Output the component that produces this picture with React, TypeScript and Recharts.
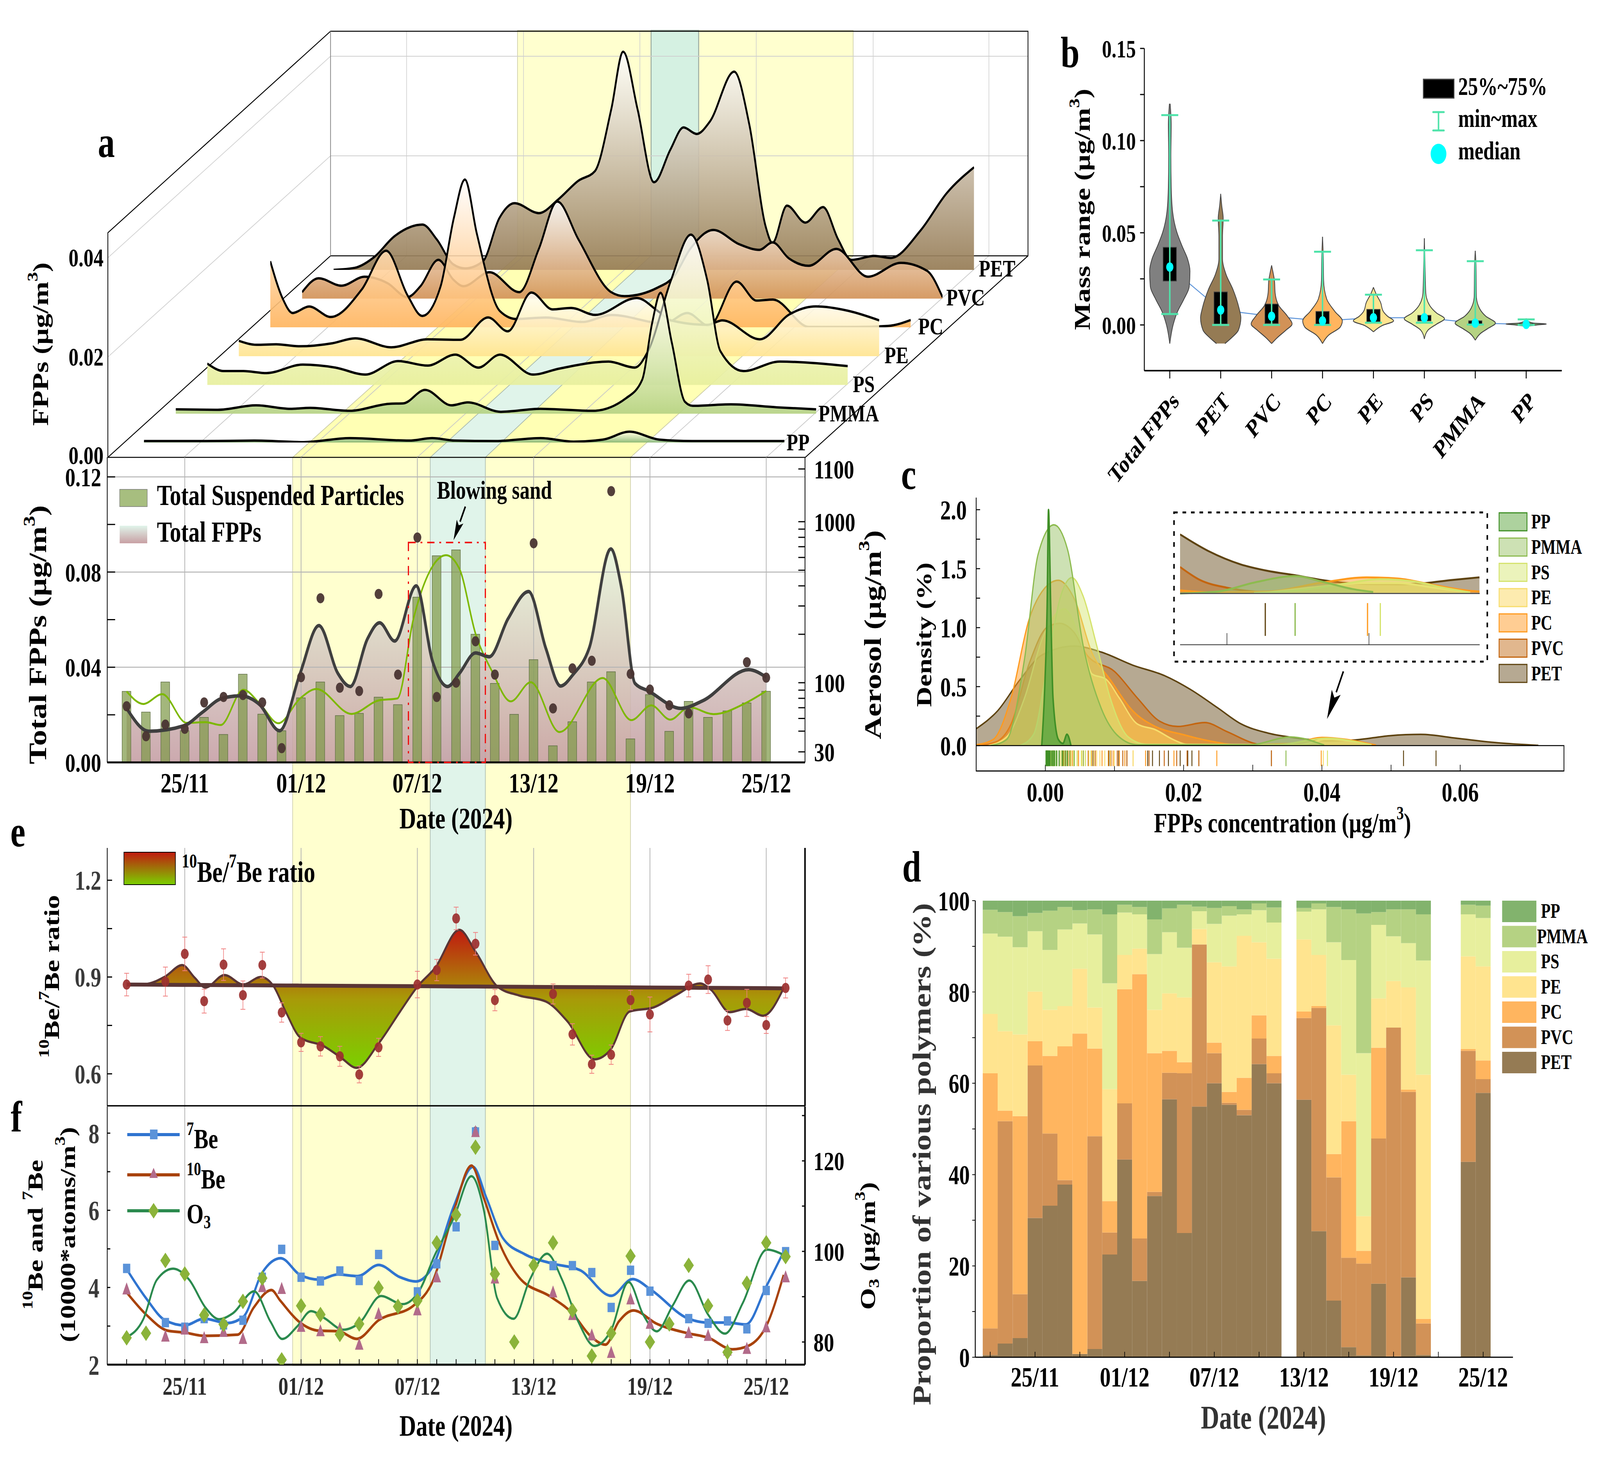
import React from 'react';
import { ComposedChart, Area, Line, Bar, Scatter, XAxis, YAxis, CartesianGrid, ErrorBar, ReferenceLine } from 'recharts';

const FONT = "'Liberation Serif','Times New Roman',serif";
const tk = (size: number, fill = '#000') => ({ fontFamily: FONT, fontWeight: 700, fontSize: size, fill });

// ---------- shared
const polymers = ['PP', 'PMMA', 'PS', 'PE', 'PC', 'PVC', 'PET'];
const dateIdx = [3, 9, 15, 21, 27, 33];
const dateLabels = ['25/11', '01/12', '07/12', '13/12', '19/12', '25/12'];
const colorsD: Record<string, string> = { PET: '#957B54', PVC: '#D29257', PC: '#FFB55F', PE: '#FFE48F', PS: '#E7EF9D', PMMA: '#B5D283', PP: '#82B36D' };
const dateFmt = (v: number) => { const k = dateIdx.indexOf(v); return k >= 0 ? dateLabels[k] : ''; };

// ---------- panel a ridges: [day index, concentration]
const ridgePET = [[0,0],[1.08,.0004],[2.1,.0026],[3.12,.0067],[4.58,.0091],[5.32,.0061],[6.17,.0011],[6.78,.0003],[7.69,.0017],[8.54,.0104],[9.32,.0134],[10.58,.0114],[11.59,.0142],[12.61,.0179],[13.46,.0198],[14.31,.0323],[14.92,.0438],[15.66,.0323],[16.51,.0176],[17.36,.0242],[18.03,.0286],[18.71,.0273],[19.39,.0298],[20.64,.0398],[21.42,.0292],[22.27,.0086],[22.61,.0054],[23.36,.0129],[24.31,.0095],[25.22,.0126],[26,.0061],[26.68,.002],[27.86,.0028],[28.71,.0024],[30.24,.0079],[31.59,.0154],[33,.0206]];
const ridgePVC = [[0,.0013],[.85,.0041],[2.03,.0026],[3.22,.0044],[4.41,.0031],[5.42,.0003],[6.1,.0025],[7.02,.0078],[7.8,.0038],[8.31,.0025],[9.66,.0053],[11.19,.0013],[12.2,.01],[13.15,.0195],[14.24,.0119],[15.93,.0013],[16.61,.0005],[18.31,.0022],[19.15,.0044],[20,.01],[21.19,.0138],[22.54,.0109],[23.56,.0098],[24.24,.0113],[25.08,.0081],[26.1,.0066],[27.53,.01],[29.15,.0044],[30.85,.0072],[32.2,.0056],[33,.0003]];
const ridgePC = [[0,.0133],[.64,.0058],[1.15,.0029],[2,.0042],[3.12,.0021],[4.71,.0076],[5.97,.0154],[7.08,.0064],[7.83,.0023],[8.78,.0083],[9.46,.022],[10.03,.0297],[10.64,.0189],[11.83,.0033],[12.68,.0017],[14.2,.002],[16.07,.0011],[17.59,.0025],[20.31,.0008],[21.49,.0029],[22.61,.0003],[24.03,.0092],[25.05,.0054],[25.9,.0056],[27.76,.0001],[30.14,.0001],[31.83,.0003],[33,.0015]];
const ridgePE = [[0,.0031],[.92,.0023],[1.93,.0024],[3.12,.002],[4.81,.0026],[6,.0036],[7.86,.0018],[9.73,.0034],[11.42,.0033],[12.85,.0078],[13.86,.005],[15.08,.0128],[16.17,.0094],[17.12,.0097],[18.37,.0083],[20.51,.0117],[21.59,.0091],[22.27,.0072],[24.14,.0063],[24.92,.0072],[26.85,.0034],[28.37,.0084],[29.73,.01],[31.42,.0091],[33,.0072]];
const ridgePS = [[0,.0043],[.85,.0028],[1.86,.0028],[3.05,.0024],[4.92,.0041],[6.61,.0035],[8.14,.0021],[9.83,.0048],[11.36,.0039],[12.78,.0061],[13.97,.0035],[15.08,.0061],[16.78,.0021],[18.14,.0033],[20.68,.0047],[22.03,.0035],[22.71,.0068],[23.9,.0211],[24.92,.0302],[25.76,.0211],[26.44,.0068],[27.63,.0028],[29.49,.0047],[33,.0038]];
const ridgePMMA = [[0,.0009],[2.17,.0008],[4.14,.0017],[5.9,.001],[6.92,.0012],[8.95,.0006],[10.98,.002],[11.73,.0021],[12.85,.0048],[14.2,.0017],[15.05,.0023],[16.75,.0004],[18.78,.001],[21.49,.0006],[23.19,.0031],[24.03,.0068],[24.54,.0181],[24.98,.0243],[25.56,.0143],[26.24,.0024],[26.64,.0016],[28.61,.0019],[30.98,.0013],[33,.0009]];
const ridgePP = [[0,.0003],[3.15,.0003],[5.69,.0004],[8.24,.0001],[10.61,.0009],[13.66,.0004],[14.85,.0009],[16.03,.0004],[18.07,.0003],[20.44,.0009],[22.14,.0002],[23.66,.0006],[25.02,.0022],[26.54,.0006],[28.24,.0003],[33,.0003]];
const ridgeSeries: [string, number[][]][] = [['PET', ridgePET], ['PVC', ridgePVC], ['PC', ridgePC], ['PE', ridgePE], ['PS', ridgePS], ['PMMA', ridgePMMA], ['PP', ridgePP]];

// ---------- panel TSP
const tspValues = [88.3,65.7,101,50.3,60.9,47.7,113,63.8,50.3,80.5,101,62.5,64.5,81.3,73.1,340,615,668,200,99,63.6,139,40.6,57.2,101,117,44.8,84.3,49.9,76.6,60.9,66.8,74.9,88.5];
const tspSmooth = [[0,88.3],[.86,73.8],[1.84,84.9],[3.09,56.3],[4.07,56.9],[4.85,54.6],[6.02,90.5],[6.86,74.4],[7.83,56],[8.95,79.9],[9.79,91.5],[11.6,64],[13,77.6],[13.97,79.9],[14.8,250],[15.78,528],[16.48,620],[17.17,510],[18,202],[18.85,118],[19.82,76.6],[20.85,100.7],[22.33,49.4],[24.56,107],[26.04,58.6],[27.07,72.3],[28.05,59],[29.02,70.5],[30.28,63.8],[31.95,74.9],[33,88.9]];
const fppCurve = [[0,.0227],[1.14,.0131],[2.96,.0154],[3.93,.0212],[4.91,.0269],[5.88,.028],[6.86,.0243],[7.89,.0133],[8.95,.0374],[9.92,.0575],[10.9,.0374],[11.54,.0319],[12.43,.052],[13.05,.0587],[13.83,.051],[14.94,.0742],[15.78,.0426],[16.56,.0319],[17.17,.0374],[18,.046],[18.71,.0444],[19.68,.0604],[20.74,.0718],[21.63,.0479],[22.39,.0321],[23.03,.0369],[23.86,.0479],[24.98,.0897],[25.54,.073],[26.23,.0332],[26.93,.03],[28.6,.0227],[29.72,.0259],[32.09,.039],[33,.0358]];
const fppDots = [[0,.0236],[1,.011],[2,.0159],[3,.0141],[4,.0252],[5,.0275],[6,.0283],[7,.0252],[8,.006],[9,.0358],[10,.069],[11,.0314],[12,.03],[13,.0708],[14,.0369],[15,.0945],[16,.0275],[17,.0335],[18,.0509],[19,.0369],[21,.0921],[22,.0227],[23,.0395],[24,.0427],[25,.114],[26,.0372],[27,.0306],[28,.024],[29,.0206],[32,.0421],[33,.0356]];

// ---------- panel e
const ratioIdx = [0,1,1.98,2.87,3.51,4.07,5.05,6.02,6.92,7.56,8.25,8.95,10.2,11.04,11.87,13,14.11,15,15.92,17.17,18.01,19.14,20.24,21.63,22.75,24.14,24.98,25.95,27.2,28.32,29.58,30.14,31.12,31.95,32.84,33.9];
const ratioCurve = [.8766,.8784,.9013,.937,.898,.8673,.9062,.8766,.9,.8735,.787,.713,.685,.651,.6185,.694,.793,.87,.929,1.046,.978,.87,.843,.824,.762,.645,.676,.793,.806,.843,.88,.861,.791,.801,.78,.865];
const ratioBase = [.8766,.8763,.8759,.8756,.8754,.8752,.8749,.8746,.8742,.874,.8738,.8735,.8731,.8728,.8726,.8722,.8718,.8715,.8712,.8708,.8705,.8701,.8697,.8692,.8689,.8684,.8681,.8678,.8673,.8669,.8665,.8663,.866,.8657,.8654,.865];
const ratioPts = [[0,.8766,.035],[2,.8858,.045],[3,.9716,.052],[4,.8253,.037],[5,.9383,.049],[6,.8438,.044],[7,.937,.04],[8,.7901,.03],[9,.6975,.028],[10,.6852,.03],[11,.6543,.031],[12,.598,.026],[13,.682,.028],[15,.8766,.041],[16,.9216,.033],[17,1.0815,.035],[18,1.003,.035],[19,.8284,.033],[22,.8475,.031],[23,.7222,.033],[24,.6296,.028],[25,.6593,.03],[26,.8284,.03],[27,.784,.054],[29,.8735,.035],[30,.892,.043],[31,.7654,.031],[32,.8198,.042],[33,.7512,.026],[34,.8661,.031]];

// ---------- panel f
const be7Curve = [[0,4.476],[1,3.723],[1.98,3.151],[3,3.018],[4,3.193],[5.18,3.078],[6.02,3.241],[7,4.386],[7.95,4.759],[8.95,4.325],[9.92,4.205],[10.9,4.337],[11.93,4.295],[13,4.584],[14.11,4.265],[14.94,4.157],[15.78,4.536],[16.9,6.133],[17.87,7.127],[18.57,6.313],[19.4,5.289],[20.52,4.867],[21.9,4.627],[23.4,4.446],[25,3.783],[26.1,4.217],[27.07,3.934],[28.9,3.211],[30,3.09],[30.98,3.09],[31.95,3.042],[33,4.024],[33.9,4.928]];
const be10Curve = [[0,3.873],[1,3.301],[2.12,2.88],[3,2.831],[4,2.747],[5.73,2.777],[6.56,3.482],[7.47,3.934],[7.92,3.663],[8.95,3.09],[9.92,2.88],[10.9,2.867],[11.88,2.669],[13,3.151],[14.8,3.53],[15.78,4.145],[16.9,6.012],[17.79,7.157],[18.43,6.313],[19.27,5.108],[20.24,4.265],[21.9,3.753],[23,3.331],[23.9,2.759],[24.7,2.518],[25.4,3.12],[26.15,3.404],[27.35,3.06],[28.9,2.819],[30,2.699],[31.25,2.398],[32.08,2.488],[33,3],[33.9,4.325]];
const o3Curve = [[0,81.03],[.86,85.03],[1.56,93.74],[2.4,96.2],[3.23,93.74],[4.07,87.59],[4.77,85.03],[5.47,86.31],[6.58,91.18],[7.42,84.51],[8.03,80.67],[8.81,83.49],[9.51,86.82],[10.2,85.28],[11.18,82.72],[12.02,84.26],[13.12,90.15],[14.24,88.36],[15.08,91.18],[15.92,99.38],[16.9,107.6],[17.79,116.6],[18.43,109.1],[19.12,89.64],[19.96,85.13],[20.8,93.74],[21.69,99.49],[22.47,93.74],[23.3,84.51],[24.14,79.13],[24.98,82.46],[25.9,93.23],[26.65,86.05],[27.35,82.36],[28.18,88.1],[29.03,93.59],[30,86.05],[30.87,81.85],[31.79,88.62],[33.03,100.4],[33.95,99.13]];
const beIdx = [0,2,3,4,5,6,7,8,9,10,11,12,13,15,16,17,18,19,22,23,24,25,26,27,29,30,31,32,33,34];
const be7Pts = [4.494,3.09,2.97,3.193,3.03,3.151,4.265,4.988,4.265,4.169,4.428,4.181,4.855,3.886,4.614,5.572,8.03,5.09,4.566,4.566,4.386,3.482,4.446,3.904,3.193,3.072,3.133,2.928,3.922,4.928];
const be10Pts = [3.952,2.729,2.91,2.687,2.849,2.669,4.012,3.964,2.982,2.867,2.928,2.518,3.313,3.41,4.265,5.952,8.03,4.235,3.873,3.289,2.759,2.307,3.693,3.06,2.819,2.747,2.367,2.41,2.97,4.265];
const o3Pts = [80.92,81.95,98,95.03,85.95,83.9,88.97,94.1,76.05,88,86.05,81.69,84,91.95,87.85,89.13,101.9,108.1,123,95.03,80,96.92,101.9,86.97,76.92,81.95,98.97,80,84,96.92,88,77.74,92.97,101.9,98.87];
const beErr = [.05,.05,.06,.05,.05,.05,.05,.06,.05,.06,.05,.05,.05,.06,.05,.05,.12,.06,.05,.06,.07,.05,.05,.05,.05,.05,.05,.05,.05,.05];

// ---------- panel b violins: [value, half width in category units]
const vioNames = ['Total FPPs', 'PET', 'PVC', 'PC', 'PE', 'PS', 'PMMA', 'PP'];
const vioColors = ['#808080', '#957B54', '#D29257', '#FFB55F', '#FFE48F', '#E7EF9D', '#B5D283', '#82B36D'];
const vioTotal = [[-.0101,0],[.0005,.07],[.0073,.153],[.014,.278],[.0208,.382],[.0292,.396],[.036,.347],[.0427,.243],[.0503,.139],[.0613,.056],[.0748,.028],[.0917,.021],[.1086,.028],[.12,.007]];
const vioPET = [[-.0101,.083],[-.0071,.208],[-.0029,.347],[.0039,.396],[.009,.361],[.0191,.243],[.0275,.104],[.036,.035],[.0478,.035],[.0579,.049],[.0647,.021],[.0711,0]];
const vioPVC = [[-.0101,0],[-.0071,.104],[-.0029,.278],[.0005,.403],[.0047,.3125],[.0106,.139],[.0174,.069],[.0241,.056],[.0275,.035],[.0323,0]];
const vioPC = [[-.0101,0],[-.0054,.125],[-.0012,.347],[.0022,.389],[.0073,.243],[.014,.083],[.0242,.021],[.0377,.014],[.0478,0]];
const vioPE = [[-.0037,0],[-.0003,.174],[.0022,.396],[.0047,.278],[.0073,.194],[.0123,.139],[.0166,.056],[.0204,0]];
const vioPS = [[-.0076,0],[-.0029,.069],[.0005,.243],[.0034,.396],[.0064,.243],[.0106,.104],[.0174,.028],[.0309,.014],[.047,0]];
const vioPMMA = [[-.0083,0],[-.0046,.104],[-.002,.243],[.001,.396],[.0047,.208],[.009,.083],[.0157,.021],[.0326,.014],[.0402,0]];
const vioPP = [[-.0007,0],[0,.208],[.0005,.396],[.001,.139],[.0022,.028],[.0035,0]];
const violins = [vioTotal, vioPET, vioPVC, vioPC, vioPE, vioPS, vioPMMA, vioPP];
const boxQ1 = [.0238,.0005,.0008,.0005,.0017,.0022,.0005,.0002];
const boxQ3 = [.0421,.0179,.0113,.0073,.0084,.0052,.0022,.0006];
const wMin = [.0059,0,0,0,.0012,.0012,.0002,0];
const wMax = [.1138,.0566,.0247,.0397,.0164,.0405,.0346,.003];
const medians = [.0314,.0081,.0047,.0022,.0039,.0039,.001,.0003];

// ---------- panel c density: [concentration, density]
const denPET = [[-.00997,.144],[-.0069,.295],[-.00365,.56],[-.0004,.771],[.00417,.844],[.00808,.793],[.01264,.682],[.0172,.594],[.0211,.472],[.025,.317],[.0283,.184],[.0322,.106],[.0367,.062],[.0407,.04],[.0446,.047],[.0498,.084],[.0543,.095],[.0595,.062],[.0654,.024],[.0713,.002]];
const denPVC = [[-.00997,0],[-.00723,.029],[-.00495,.184],[-.00235,.693],[.00026,1.003],[.00208,1.037],[.00417,.959],[.00612,.76],[.01003,.627],[.01329,.405],[.01655,.206],[.01915,.162],[.02306,.195],[.02632,.117],[.03023,.018],[.03218,0]];
const denPC = [[-.00997,.007],[-.00756,.051],[-.00495,.405],[-.00235,1.07],[-.00007,1.336],[.00189,1.402],[.00417,1.247],[.00678,.782],[.00938,.56],[.01264,.295],[.0159,.162],[.0198,.095],[.02371,.04],[.02762,.007],[.03544,.018],[.04,.069],[.04326,.055],[.04782,.004]];
const denPE = [[-.00821,0],[-.0056,.073],[-.003,.405],[-.0004,.914],[.00274,1.158],[.00547,.826],[.00678,.606],[.00873,.565],[.01068,.405],[.01329,.184],[.0159,.135],[.0185,.051],[.02046,.011],[.03675,.007],[.04065,.055],[.04717,.007]];
const denPS = [[-.00365,0],[-.0017,.095],[.00026,.671],[.00222,1.267],[.00384,1.424],[.00547,1.267],[.00743,.849],[.00938,.405],[.01199,.073],[.01459,.011],[.03349,.007],[.04065,.062],[.04717,.004]];
const denPMMA = [[-.00788,0],[-.0056,.051],[-.003,.738],[-.00104,1.623],[.00124,1.872],[.00319,1.668],[.00547,.849],[.00808,.317],[.01068,.073],[.01329,.007],[.02958,.007],[.03544,.073],[.04033,.004]];
const denPP = [[-.00052,0],[-.00007,.516],[.00026,1.18],[.00046,2],[.00078,1.18],[.00111,.405],[.00189,.051],[.00254,.018],[.00313,.095],[.00371,0]];
const denSeries: [string, number[][]][] = [['PET', denPET], ['PVC', denPVC], ['PC', denPC], ['PE', denPE], ['PS', denPS], ['PMMA', denPMMA], ['PP', denPP]];
const denStroke: Record<string, string> = { PET: '#5E4310', PVC: '#C4650F', PC: '#FF9A1E', PE: '#F7DD6C', PS: '#D5E36C', PMMA: '#8DBB4F', PP: '#3F8F26' };
const denFill: Record<string, string> = { PET: '#6E5426', PVC: '#C4701E', PC: '#FF9C28', PE: '#FBD860', PS: '#D8E878', PMMA: '#9CC46A', PP: '#5BA53E' };
const rugPP = [.0001,.0002,.0003,.0004,.0005,.0006,.0007,.0009,.0011,.0013,.0016,.002,.0025,.0032];
const rugPMMA = [.0001,.0003,.0005,.0007,.001,.0012,.0014,.0017,.002,.0024,.0027,.003,.0035,.0042,.0055,.0348];
const rugPS = [.0004,.0008,.0012,.0016,.002,.0024,.0028,.0032,.0037,.0041,.0046,.0052,.0058,.0066,.0408];
const rugPE = [.001,.0016,.0022,.003,.0037,.0041,.0046,.0053,.0058,.0063,.007,.0074,.0079,.0086,.0094,.01,.0127,.0402];
const rugPC = [.0005,.0011,.002,.0026,.0033,.0039,.0048,.0055,.0067,.0074,.0082,.0091,.0098,.0107,.0115,.0127,.0145,.0186,.0248,.0399];
const rugPVC = [.0003,.0012,.0024,.0036,.0048,.0062,.0072,.0095,.0104,.0112,.0118,.015,.0172,.019,.0205,.0222,.0327];
const rugPET = [.0002,.0029,.0041,.0069,.0092,.0106,.0118,.0148,.0155,.0165,.0178,.0195,.0206,.0212,.0222,.0327,.0518,.0565];
const rugs: [string, number[]][] = [['PET', rugPET], ['PVC', rugPVC], ['PC', rugPC], ['PE', rugPE], ['PS', rugPS], ['PMMA', rugPMMA], ['PP', rugPP]];
// inset
const insPET = [[.0267,.245],[.02873,.175],[.03095,.121],[.03285,.094],[.03476,.076],[.03666,.056],[.03856,.043],[.04014,.039],[.04205,.038],[.04395,.043],[.04585,.056],[.04778,.067]];
const insPVC = [[.0267,.11],[.0281,.056],[.03,.024],[.0319,.008],[.03349,.004]];
const insPC = [[.0267,.013],[.02873,.005],[.03285,.008],[.03666,.045],[.03983,.067],[.04205,.062],[.04458,.035],[.04712,.011],[.04778,.008]];
const insPE = [[.03285,.004],[.03666,.029],[.03951,.043],[.04205,.043],[.04458,.024],[.04712,.004]];
const insPS = [[.0319,.002],[.03507,.013],[.03824,.04],[.04078,.059],[.043,.051],[.04522,.024],[.04712,.004]];
const insPMMA = [[.0267,0],[.02937,.008],[.0319,.045],[.03476,.072],[.03697,.045],[.03888,.018],[.0403,.006]];
const insSeries: [string, number[][]][] = [['PET', insPET], ['PVC', insPVC], ['PC', insPC], ['PE', insPE], ['PS', insPS], ['PMMA', insPMMA]];
const insRug: [string, number][] = [['PET', .0327], ['PMMA', .0348], ['PC', .0399], ['PS', .0408]];

// ---------- panel d stacked shares (index 20, 30, 31 missing)
const shPET = [.5,3,4.2,30.5,33.2,37.8,.7,1.8,22.5,43.3,16.7,35.3,56.5,27.2,54.9,60,55.3,53,64.2,60,null,56.4,27.6,12.4,2.2,.4,16.1,.2,17.5,.5,null,null,42.8,57.9];
const shPVC = [5.8,48.7,9.6,33.4,15.8,1,0,46.6,4.8,12.3,9.3,.9,5.8,35,35.5,6.6,.4,1.2,5.6,2.2,null,17.9,48.9,27,19.6,20.1,31.8,72,40.6,6.9,null,null,24.3,3];
const shPC = [55.9,2.3,39,5.3,17,29.3,70.2,19.2,6.9,25,57.9,30.4,4.8,2.4,0,2.3,2.4,7,5.1,3.8,null,1.4,.4,5.1,29.9,2.8,19.9,0,.5,1,null,null,.4,4.1];
const shPE = [13,17.4,17.9,10.9,10.1,8.8,14.2,9,24.5,7.5,5.6,9.5,12.6,14.2,3.4,17.6,27.5,31.1,16,21.3,null,15.8,11.2,28.2,10.2,7.6,10.8,10.2,22.4,53.5,null,null,20.3,20.6];
const shPS = [17.6,20.7,19.1,13.2,13.1,16.8,9.9,16,23.2,9.3,7.5,12.2,13.4,10.9,3.9,8.4,11.1,4.7,7,7.9,null,6.1,10,18.2,25.1,35.7,16.1,9.8,9.7,25,null,null,9.2,10.6];
const shPMMA = [5.2,5.4,6.8,4,8.6,4.9,2.9,5.5,15.1,1.7,1.6,7.6,5.2,9.4,1,3.5,2.1,1.1,1.5,3.3,null,.8,1.3,7.7,11.1,30.6,2.8,5.9,7.4,10.1,null,null,2.1,2.7];
const shPP = [2,2.5,3.4,2.7,2.2,1.4,2.1,1.9,3,.9,1.4,4.1,1.7,.9,1.3,1.6,1.2,1.9,.6,1.5,null,1.6,.6,1.4,1.9,2.8,2.5,1.9,1.9,3,null,null,.9,1.1];

const rows = (a: number[][]) => a.map(([i, v]) => ({ i, v }));
const Box = ({ x, y, w, h, z, children }: any) => <div style={{ position: 'absolute', left: x, top: y, width: w, height: h, zIndex: z ?? 1 }}>{children}</div>;
const m0 = { top: 0, right: 0, bottom: 0, left: 0 };

const T = ({ x, y, s = 66, rot, anchor = 'middle', fill = '#000', children }: any) => (
  <text x={x} y={y} fontFamily={FONT} fontWeight={700} fontSize={s} fill={fill} textAnchor={anchor} dominantBaseline="central" transform={rot ? `rotate(${rot} ${x} ${y})` : undefined}>{children}</text>
);
const Sup = ({ s, children, after }: any) => (<><tspan dy={-s * 0.36} fontSize={s * 0.66}>{children}</tspan><tspan dy={s * 0.36}>{after}</tspan></>);
const Sub = ({ s, children, after }: any) => (<><tspan dy={s * 0.28} fontSize={s * 0.66}>{children}</tspan>{after ? <tspan dy={-s * 0.28}>{after}</tspan> : null}</>);
const Arrow = ({ x1, y1, x2, y2, head = 70, wid = 16 }: any) => {
  const dx = x2 - x1, dy = y2 - y1, L = Math.hypot(dx, dy), ux = dx / L, uy = dy / L;
  const bx = x2 - ux * head, by = y2 - uy * head;
  return <g><line x1={x1} y1={y1} x2={bx} y2={by} stroke="#000" strokeWidth={5} /><polygon points={`${x2},${y2} ${bx - uy * wid},${by + ux * wid} ${bx + ux * head * .2},${by + uy * head * .2} ${bx + uy * wid},${by - ux * wid}`} fill="#000" /></g>;
};

const Ridge = ({ name, data, idx }: any) => {
  const base = 691 + idx * 73.7, x0 = 1101 - idx * 104.3, H = base - 40;
  const id = 'rg' + name;
  return (
    <Box x={x0} y={base - H} w={2114} h={H} z={2 + idx}>
      <ComposedChart width={2114} height={H} margin={m0} data={rows(data)}>
        <defs>
          <linearGradient id={id} x1="0" y1="0" x2="0" y2="1">
            <stop offset="0" stopColor="#FFFFFF" stopOpacity={name === 'PP' || name === 'PMMA' ? 0.5 : 0.85} />
            <stop offset="1" stopColor={colorsD[name]} stopOpacity={0.92} />
          </linearGradient>
        </defs>
        <XAxis type="number" dataKey="i" domain={[0, 33]} hide />
        <YAxis type="number" domain={[0, H * 0.02 / 255]} hide allowDataOverflow />
        <Area type="monotone" dataKey="v" stroke="#000" strokeWidth={6} fill={`url(#${id})`} fillOpacity={1} isAnimationActive={false} dot={false} />
      </ComposedChart>
    </Box>
  );
};

const dotRound = (r: number, fill: string, op = 0.95) => (p: any) => <circle key={p.index} cx={p.cx} cy={p.cy} r={r} fill={fill} fillOpacity={op} />;
const dotSquare = (p: any) => <rect key={p.index} x={p.cx - 12} y={p.cy - 12} width={24} height={24} fill="#5B93D9" />;
const dotTri = (p: any) => <polygon key={p.index} points={`${p.cx},${p.cy - 18} ${p.cx + 14},${p.cy + 13} ${p.cx - 14},${p.cy + 13}`} fill="#B26B8A" />;
const dotDia = (p: any) => <polygon key={p.index} points={`${p.cx},${p.cy - 20} ${p.cx + 17},${p.cy} ${p.cx},${p.cy + 20} ${p.cx - 17},${p.cy}`} fill="#8BB33A" />;

const RotTick = ({ x, y, payload }: any) => (
  <text x={x + 34} y={y + 60} textAnchor="end" fontFamily={FONT} fontWeight={700} fontSize={64} transform={`rotate(-45 ${x + 34} ${y + 60})`}>{vioNames[payload.value]}</text>
);

const leftTicksTSP = [0, .02, .04, .06, .08, .1, .12];
const rightTicksTSP = [37.2, 50, 60, 70, 80, 90, 100, 200, 300, 400, 500, 600, 700, 800, 900, 1000, 2126];
const rightFmtTSP = (v: number) => (v === 37.2 ? '30' : v === 100 ? '100' : v === 1000 ? '1000' : v === 2126 ? '1100' : '');

export default function App() {
  const tspRows = tspValues.map((v, i) => ({ i, v }));
  const ratioRows = ratioIdx.map((i, k) => ({ i, v: ratioCurve[k], r: [ratioBase[k], ratioCurve[k]], b: ratioBase[k] }));
  const ratioDots = ratioPts.map(([i, v, e]) => ({ i, v, e }));
  const be7Rows = beIdx.map((i, k) => ({ i, v: be7Pts[k], e: beErr[k] }));
  const be10Rows = beIdx.map((i, k) => ({ i, v: be10Pts[k], e: beErr[k] }));
  const o3Rows = o3Pts.map((v, i) => ({ i, v }));
  const boxRows = vioNames.map((_, i) => ({ i, box: [boxQ1[i], boxQ3[i]], v: medians[i], e: [medians[i] - wMin[i], wMax[i] - medians[i]] }));
  const shareRows = shPET.map((_, i) => ({ i, PET: shPET[i], PVC: shPVC[i], PC: shPC[i], PE: shPE[i], PS: shPS[i], PMMA: shPMMA[i], PP: shPP[i] }));
  const dayTicks = Array.from({ length: 35 }, (_, i) => i);
  const tspMargin = { top: 30, right: 220, bottom: 130, left: 220 };
  // The window may be narrower than the 5281×3733 design: fit the page to it so nothing is cut off.
  const fitX = Math.min(1, window.innerWidth / 5281);
  const fitY = Math.min(1, window.innerHeight / 3733);

  return (
    <div style={{ position: 'absolute', left: 0, top: 0, width: 5281, height: 3733, background: '#fff', overflow: 'hidden', transform: `scale(${fitX}, ${fitY})`, transformOrigin: '0 0' }}>
      {/* background: 3D frame and event bands */}
      <svg width={5281} height={3733} style={{ position: 'absolute', left: 0, top: 0, zIndex: 0 }}>
        <rect x={966} y={1171} width={1115} height={2325} fill="#FFFFCF" stroke="#CBCBA8" strokeWidth={2} />
        <rect x={1420} y={1171} width={182} height={2325} fill="#E0F4EA" stroke="#A8B8AE" strokeWidth={2} />
        <polygon points="966,1171 1708,655 2816,655 2081,1171" fill="#FFFFB4" stroke="#CBCBA8" strokeWidth={2} />
        <polygon points="1420,1171 2149,655 2306,655 1602,1171" fill="#E0F4EA" stroke="#A8B8AE" strokeWidth={2} />
        <rect x={1708} y={78} width={1108} height={577} fill="#FFFFCF" stroke="#CBCBA8" strokeWidth={2} />
        <rect x={2149} y={78} width={157} height={577} fill="#D5F1E2" stroke="#98A89E" strokeWidth={3} />
        {[607, 993, 1377, 1761, 2147, 2529].map((x) => <line key={x} x1={x} y1={1171} x2={x + 735} y2={655} stroke="#C8C8C8" strokeWidth={2} />)}
        {[1342, 1728, 2112, 2496, 2882, 3264].map((x) => <line key={x} x1={x} y1={80} x2={x} y2={655} stroke="#CFCFCF" strokeWidth={2} />)}
        {[144, 399].map((y) => <line key={y} x1={1091} y1={y} x2={3393} y2={y} stroke="#CFCFCF" strokeWidth={2} />)}
        <line x1={356} y1={660} x2={1091} y2={144} stroke="#CFCFCF" strokeWidth={2} />
        <line x1={356} y1={914} x2={1091} y2={399} stroke="#CFCFCF" strokeWidth={2} />
        <g stroke="#000" strokeWidth={2.5} fill="none">
          <polyline points="356,1171 356,596 1091,80 3393,80 3393,655 2658,1171 356,1171 1091,655 3393,655" />
          <line x1={1091} y1={80} x2={1091} y2={655} stroke="#888" />
        </g>
      </svg>

      {ridgeSeries.map(([name, data], k) => <Ridge key={name} name={name} data={data} idx={k} />)}

      {/* Total FPPs / aerosol: area under the bars */}
      <Box x={134} y={1141} w={2743} h={941} z={9}>
        <ComposedChart width={2743} height={941} margin={tspMargin}>
          <defs>
            <linearGradient id="fppGrad" x1="0" y1="0" x2="0" y2="1">
              <stop offset="0" stopColor="#E6F5E0" stopOpacity={0.85} />
              <stop offset="1" stopColor="#C39AA0" stopOpacity={0.85} />
            </linearGradient>
          </defs>
          <XAxis type="number" dataKey="i" domain={[-1, 35]} hide />
          <YAxis yAxisId="l" type="number" domain={[0, .1282]} hide allowDataOverflow />
          <Area yAxisId="l" data={rows(fppCurve)} type="monotone" dataKey="v" stroke="none" fill="url(#fppGrad)" fillOpacity={1} isAnimationActive={false} />
        </ComposedChart>
      </Box>
      {/* bars and axes */}
      <Box x={134} y={1141} w={2743} h={941} z={10}>
        <ComposedChart width={2743} height={941} margin={{ top: 30, right: 0, bottom: 0, left: 0 }} data={tspRows}>
          <CartesianGrid stroke="#B5B5B5" strokeWidth={2.5} horizontalValues={[.04, .08, .12]} verticalValues={dateIdx} yAxisId="l" />
          <XAxis type="number" dataKey="i" domain={[-1, 35]} ticks={dateIdx} interval={0} tickFormatter={dateFmt} height={130} tick={tk(72)} tickSize={0} tickMargin={26} axisLine={{ stroke: '#000', strokeWidth: 5 }} />
          <YAxis yAxisId="l" type="number" domain={[0, .1282]} ticks={leftTicksTSP} interval={0} width={220} tick={tk(68)} tickSize={-26} tickMargin={46} tickFormatter={(v: number) => ([0, .04, .08, .12].includes(v) ? v.toFixed(2) : '')} axisLine={{ stroke: '#000', strokeWidth: 2.5 }} tickLine={{ stroke: '#000', strokeWidth: 3 }} allowDataOverflow />
          <YAxis yAxisId="r" orientation="right" type="number" scale="log" domain={[32, 2512]} ticks={rightTicksTSP} interval={0} width={220} tick={{ ...tk(68), textAnchor: 'start' }} tickSize={-22} tickMargin={52} tickFormatter={rightFmtTSP} axisLine={{ stroke: '#000', strokeWidth: 2.5 }} tickLine={{ stroke: '#000', strokeWidth: 3 }} allowDataOverflow />
          <Bar yAxisId="r" dataKey="v" barSize={29} fill="#7F9A4A" fillOpacity={0.72} stroke="#5F6E45" strokeWidth={1.5} isAnimationActive={false} />
        </ComposedChart>
      </Box>
      {/* curves and points */}
      <Box x={134} y={1141} w={2743} h={941} z={11}>
        <ComposedChart width={2743} height={941} margin={tspMargin}>
          <XAxis type="number" dataKey="i" domain={[-1, 35]} hide />
          <YAxis yAxisId="l" type="number" domain={[0, .1282]} hide allowDataOverflow />
          <YAxis yAxisId="r" orientation="right" type="number" scale="log" domain={[32, 2512]} hide allowDataOverflow />
          <Line yAxisId="r" data={rows(tspSmooth)} type="monotone" dataKey="v" stroke="#7DB800" strokeWidth={5} dot={false} isAnimationActive={false} />
          <Line yAxisId="l" data={rows(fppCurve)} type="monotone" dataKey="v" stroke="#3F3F3F" strokeWidth={9} dot={false} isAnimationActive={false} />
          <Line yAxisId="l" data={rows(fppDots)} dataKey="v" stroke="none" dot={dotRound(13, '#4A3533')} isAnimationActive={false} />
        </ComposedChart>
      </Box>

      {/* e */}
      <Box x={134} y={2171} w={2743} h={662} z={10}>
        <ComposedChart width={2743} height={662} margin={m0} data={ratioRows}>
          <defs>
            <linearGradient id="beGrad" x1="0" y1="0" x2="0" y2="1">
              <stop offset="0" stopColor="#C01A10" />
              <stop offset="0.5" stopColor="#A89A08" />
              <stop offset="1" stopColor="#7BD000" />
            </linearGradient>
          </defs>
          <CartesianGrid stroke="#B5B5B5" strokeWidth={2.5} horizontal={false} verticalValues={dateIdx} />
          <XAxis type="number" dataKey="i" domain={[-1, 35]} ticks={dateIdx} tickFormatter={() => ''} tickLine={false} height={1} axisLine={{ stroke: '#000', strokeWidth: 5 }} />
          <YAxis yAxisId="l" type="number" domain={[.5, 1.3]} ticks={[.6, .75, .9, 1.05, 1.2]} interval={0} width={220} tick={tk(70, '#3a3a3a')} tickSize={-16} tickMargin={36} tickFormatter={(v: number) => ([.6, .9, 1.2].includes(v) ? v.toFixed(1) : '')} axisLine={{ stroke: '#000', strokeWidth: 2.5 }} tickLine={{ stroke: '#000', strokeWidth: 3 }} allowDataOverflow />
          <YAxis yAxisId="r" orientation="right" type="number" domain={[.5, 1.3]} ticks={[]} width={220} axisLine={{ stroke: '#000', strokeWidth: 5 }} />
          <Area yAxisId="l" type="monotone" dataKey="r" stroke="#5A3535" strokeWidth={6} fill="url(#beGrad)" fillOpacity={1} isAnimationActive={false} />
          <Line yAxisId="l" type="linear" dataKey="b" stroke="#5A3535" strokeWidth={10} dot={false} isAnimationActive={false} />
          <Line yAxisId="l" data={ratioDots} dataKey="v" stroke="none" dot={dotRound(13, '#9B2F2F', .92)} isAnimationActive={false}>
            <ErrorBar dataKey="e" direction="y" width={8} strokeWidth={2} stroke="#F08080" />
          </Line>
        </ComposedChart>
      </Box>

      {/* f */}
      <Box x={134} y={2833} w={2743} h={781} z={10}>
        <ComposedChart width={2743} height={781} margin={m0}>
          <CartesianGrid stroke="#B5B5B5" strokeWidth={2.5} horizontal={false} verticalValues={dateIdx} />
          <XAxis type="number" dataKey="i" domain={[-1, 35]} ticks={dayTicks} interval={0} tickFormatter={dateFmt} height={120} tick={tk(66, '#2c2c2c')} tickSize={-14} tickMargin={44} axisLine={{ stroke: '#000', strokeWidth: 5 }} tickLine={{ stroke: '#000', strokeWidth: 2.5 }} />
          <YAxis yAxisId="l" type="number" domain={[2, 8.69]} ticks={[2, 3, 4, 5, 6, 7, 8]} interval={0} width={220} tick={tk(72, '#3a3a3a')} tickSize={-10} tickMargin={36} tickFormatter={(v: number) => (v % 2 === 0 ? String(v) : '')} axisLine={{ stroke: '#000', strokeWidth: 2.5 }} tickLine={{ stroke: '#000', strokeWidth: 3 }} allowDataOverflow />
          <YAxis yAxisId="r" orientation="right" type="number" domain={[75, 132]} ticks={[80, 90, 100, 110, 120, 130]} interval={0} width={220} tick={{ ...tk(68), textAnchor: 'start' }} tickSize={-10} tickMargin={38} tickFormatter={(v: number) => (v % 20 === 0 ? String(v) : '')} axisLine={{ stroke: '#000', strokeWidth: 5 }} tickLine={{ stroke: '#000', strokeWidth: 3 }} allowDataOverflow />
          <Line yAxisId="l" data={rows(be7Curve)} type="monotone" dataKey="v" stroke="#2F74D0" strokeWidth={7} dot={false} isAnimationActive={false} />
          <Line yAxisId="l" data={rows(be10Curve)} type="monotone" dataKey="v" stroke="#A8420B" strokeWidth={7} dot={false} isAnimationActive={false} />
          <Line yAxisId="r" data={rows(o3Curve)} type="monotone" dataKey="v" stroke="#2B8A4E" strokeWidth={6} dot={false} isAnimationActive={false} />
          <Line yAxisId="l" data={be7Rows} dataKey="v" stroke="none" dot={dotSquare} isAnimationActive={false}>
            <ErrorBar dataKey="e" direction="y" width={5} strokeWidth={2} stroke="#333" />
          </Line>
          <Line yAxisId="l" data={be10Rows} dataKey="v" stroke="none" dot={dotTri} isAnimationActive={false} />
          <Line yAxisId="r" data={o3Rows} dataKey="v" stroke="none" dot={dotDia} isAnimationActive={false} />
        </ComposedChart>
      </Box>

      {/* b: median trend line behind the violins */}
      <Box x={3777} y={123.5} w={1378} h={825} z={2}>
        <ComposedChart width={1378} height={825} margin={m0} data={boxRows}>
          <XAxis type="number" dataKey="i" domain={[-.5, 7.7]} hide />
          <YAxis type="number" domain={[-.0248, .15]} hide />
          <Line dataKey="v" stroke="#5B93D9" strokeWidth={2.5} dot={false} isAnimationActive={false} />
        </ComposedChart>
      </Box>
      {/* b violins */}
      <Box x={3777} y={123.5} w={1378} h={825} z={3}>
        <ComposedChart layout="vertical" width={1378} height={825} margin={m0}>
          <XAxis type="number" domain={[-.5, 7.7]} hide />
          <YAxis type="number" dataKey="y" domain={[-.0248, .15]} hide reversed />
          {violins.map((vd, c) => (
            <Area key={c} data={vd.map(([y, w]) => ({ y, r: [c - w, c + w] }))} type="monotone" dataKey="r" stroke="#444" strokeWidth={2.5} fill={vioColors[c]} fillOpacity={1} isAnimationActive={false} />
          ))}
        </ComposedChart>
      </Box>
      <Box x={3577} y={63.5} w={1578} h={1235} z={4}>
        <ComposedChart width={1578} height={1235} margin={{ top: 60, right: 0, bottom: 0, left: 0 }} data={boxRows}>
          <XAxis type="number" dataKey="i" domain={[-.5, 7.7]} ticks={[0, 1, 2, 3, 4, 5, 6, 7]} interval={0} height={350} tick={<RotTick />} tickSize={20} axisLine={{ stroke: '#000', strokeWidth: 4 }} tickLine={{ stroke: '#000', strokeWidth: 3 }} />
          <YAxis type="number" domain={[-.0248, .15]} ticks={[0, .025, .05, .075, .1, .125, .15]} interval={0} width={200} tick={tk(64)} tickSize={14} tickMargin={14} tickFormatter={(v: number) => ([0, .05, .1, .15].includes(v) ? v.toFixed(2) : '')} axisLine={{ stroke: '#000', strokeWidth: 3 }} tickLine={{ stroke: '#000', strokeWidth: 3 }} allowDataOverflow />
          <Bar dataKey="box" barSize={44} fill="#000" stroke="#444" strokeWidth={2} isAnimationActive={false} />
          <Line dataKey="v" stroke="none" dot={dotRound(12, '#00FFFF', 1)} isAnimationActive={false}>
            <ErrorBar dataKey="e" direction="y" width={28} strokeWidth={5} stroke="#4FE3AA" />
          </Line>
        </ComposedChart>
      </Box>

      {/* c density */}
      <Box x={3042} y={1244} w={2120} h={705} z={3}>
        <ComposedChart width={2120} height={705} margin={{ top: 30, right: 0, bottom: 40, left: 0 }}>
          <XAxis type="number" dataKey="x" domain={[-.01, .075]} hide />
          <YAxis type="number" domain={[0, 2.103]} ticks={[0, .25, .5, .75, 1, 1.25, 1.5, 1.75, 2]} interval={0} width={180} tick={tk(70)} tickSize={-13} tickMargin={44} tickFormatter={(v: number) => (v * 2 === Math.round(v * 2) ? v.toFixed(1) : '')} axisLine={{ stroke: '#000', strokeWidth: 2.5 }} tickLine={{ stroke: '#000', strokeWidth: 2.5 }} allowDataOverflow />
          {denSeries.map(([n, d]) => (
            <Area key={n} data={d.map(([x, v]) => ({ x, v }))} type="monotone" dataKey="v" stroke={denStroke[n]} strokeWidth={n === 'PP' ? 5 : 4} fill={denFill[n]} fillOpacity={n === 'PP' ? .8 : .5} isAnimationActive={false} />
          ))}
        </ComposedChart>
      </Box>
      <Box x={3042} y={1909} w={2120} h={195} z={3}>
        <ComposedChart width={2120} height={195} margin={{ top: 0, right: 0, bottom: 0, left: 180 }}>
          <XAxis type="number" dataKey="x" domain={[-.01, .075]} ticks={[0, .01, .02, .03, .04, .05, .06]} interval={0} height={130} tick={tk(70)} tickSize={-16} tickMargin={44} tickFormatter={(v: number) => (Math.round(v * 100) % 2 === 0 ? v.toFixed(2) : '')} axisLine={{ stroke: '#000', strokeWidth: 2.5 }} tickLine={{ stroke: '#000', strokeWidth: 2 }} />
          <YAxis type="number" dataKey="y" domain={[0, 1]} hide />
          {rugs.map(([n, r]) => (
            <Scatter key={n} data={r.map((x) => ({ x, y: .5 }))} isAnimationActive={false} shape={(p: any) => <rect x={p.cx - 1.5} y={p.cy - 20} width={3} height={40} fill={denStroke[n]} />} />
          ))}
        </ComposedChart>
      </Box>
      {/* c inset */}
      <Box x={3895} y={1360} w={989} h={292} z={5}>
        <ComposedChart width={989} height={292} margin={m0}>
          <XAxis type="number" dataKey="x" domain={[.0267, .0478]} ticks={[.03, .04]} interval={0} height={1} tickSize={-30} tickMargin={0} tickFormatter={() => ''} axisLine={{ stroke: '#555', strokeWidth: 3 }} tickLine={{ stroke: '#333', strokeWidth: 2 }} />
          <YAxis type="number" dataKey="y" domain={[-.2132, .2585]} hide allowDataOverflow />
          <ReferenceLine y={0} stroke="#555" strokeWidth={3} />
          {insSeries.map(([n, d]) => (
            <Area key={n} data={d.map(([x, v]) => ({ x, y: v, v }))} type="monotone" dataKey="v" stroke={denStroke[n]} strokeWidth={5} fill={denFill[n]} fillOpacity={.5} isAnimationActive={false} />
          ))}
          {insRug.map(([n, x]) => (
            <Scatter key={n} data={[{ x, y: -.108 }]} isAnimationActive={false} shape={(p: any) => <rect x={p.cx - 2} y={p.cy - 42} width={4} height={84} fill={denStroke[n]} />} />
          ))}
        </ComposedChart>
      </Box>

      {/* d stacked */}
      <Box x={3039} y={2246} w={1955} h={1339} z={3}>
        <ComposedChart width={1955} height={1339} margin={{ top: 60, right: 0, bottom: 0, left: 0 }} data={shareRows}>
          <XAxis type="number" dataKey="i" domain={[-1, 35]} ticks={[0, 3, 6, 9, 12, 15, 18, 21, 24, 27, 30, 33]} interval={0} tickFormatter={dateFmt} height={110} tick={tk(72)} tickSize={-14} tickMargin={38} axisLine={{ stroke: '#000', strokeWidth: 3 }} tickLine={{ stroke: '#000', strokeWidth: 2 }} />
          <YAxis type="number" domain={[0, 100]} ticks={[0, 10, 20, 30, 40, 50, 60, 70, 80, 90, 100]} interval={0} width={180} tick={tk(70)} tickSize={10} tickMargin={8} tickFormatter={(v: number) => (v % 20 === 0 ? String(v) : '')} axisLine={{ stroke: '#000', strokeWidth: 3 }} tickLine={{ stroke: '#000', strokeWidth: 2 }} />
          {[...polymers].reverse().map((n) => (
            <Bar key={n} dataKey={n} stackId="s" barSize={49.3} fill={colorsD[n]} isAnimationActive={false} />
          ))}
        </ComposedChart>
      </Box>

      {/* overlay: titles, legends, annotations */}
      <svg width={5281} height={3733} style={{ position: 'absolute', left: 0, top: 0, zIndex: 30, pointerEvents: 'none' }}>
        <T x={351} y={365} s={112}>a</T>
        <T x={3532} y={135} s={112}>b</T>
        <T x={2999} y={1215} s={112}>c</T>
        <T x={3009} y={2220} s={112}>d</T>
        <T x={59} y={2130} s={112}>e</T>
        <T x={54} y={2860} s={112}>f</T>

        {/* a */}
        <T x={284} y={1166} s={66}>0.00</T>
        <T x={284} y={914} s={66}>0.02</T>
        <T x={284} y={660} s={66}>0.04</T>
        <T x={134} y={881} s={74} rot={-90}>FPPs (µg/m<Sup s={74} after=")">3</Sup></T>
        {[['PET', 3291, 687], ['PVC', 3187, 761], ['PC', 3072, 835], ['PE', 2959, 909], ['PS', 2851, 983], ['PMMA', 2801, 1058], ['PP', 2634, 1132]].map(([n, x, y]) => <T key={n as string} x={x} y={y} s={62}>{n}</T>)}

        {/* TSP */}
        <rect x={395} y={1253} width={91} height={44} fill="#A7BE7F" stroke="#777" strokeWidth={1.5} />
        <defs>
          <linearGradient id="legFpp" x1="0" y1="0" x2="0" y2="1"><stop offset="0" stopColor="#E0F4EA" /><stop offset="1" stopColor="#C8A0A4" /></linearGradient>
          <linearGradient id="legBe" x1="0" y1="0" x2="0" y2="1"><stop offset="0" stopColor="#C01A10" /><stop offset="1" stopColor="#7BD000" /></linearGradient>
        </defs>
        <rect x={395} y={1346} width={91} height={45} fill="url(#legFpp)" />
        <T x={518} y={1268} s={74} anchor="start">Total Suspended Particles</T>
        <T x={518} y={1362} s={74} anchor="start">Total FPPs</T>
        <T x={1632} y={1255} s={66}>Blowing sand</T>
        <Arrow x1={1536} y1={1297} x2={1497} y2={1383} head={52} wid={12} />
        <rect x={1348} y={1389} width={254} height={563} fill="none" stroke="#F01010" strokeWidth={4} strokeDasharray="24 16 6 16" />
        <T x={125} y={1625} s={82} rot={-90}>Total FPPs (µg/m<Sup s={82} after=")">3</Sup></T>
        <T x={2880} y={1625} s={80} rot={-90}>Aerosol (µg/m<Sup s={80} after=")">3</Sup></T>
        <T x={1505} y={2095} s={76}>Date (2024)</T>

        {/* e */}
        <rect x={409} y={2182} width={170} height={83} fill="url(#legBe)" stroke="#000" strokeWidth={2} />
        <T x={600} y={2232} s={76} anchor="start"><Sup s={76} after="Be/">10</Sup><Sup s={76} after="Be ratio">7</Sup></T>
        <T x={170} y={2500} s={72} rot={-90}><Sup s={72} after="Be/">10</Sup><Sup s={72} after="Be ratio">7</Sup></T>

        {/* f */}
        <line x1={420} y1={2905} x2={593} y2={2905} stroke="#2F74D0" strokeWidth={8} />
        <rect x={495} y={2892} width={25} height={25} fill="#5B93D9" />
        <line x1={420} y1={3008} x2={593} y2={3008} stroke="#A8420B" strokeWidth={8} />
        <polygon points="507,2990 521,3016 493,3016" fill="#B26B8A" />
        <line x1={420} y1={3100} x2={593} y2={3100} stroke="#2B8A4E" strokeWidth={8} />
        <polygon points="507,3080 524,3100 507,3120 490,3100" fill="#8BB33A" />
        <T x={616} y={2915} s={72} anchor="start"><Sup s={72} after="Be">7</Sup></T>
        <T x={616} y={3018} s={72} anchor="start"><Sup s={72} after="Be">10</Sup></T>
        <T x={616} y={3108} s={72} anchor="start">O<Sub s={72}>3</Sub></T>
        <T x={116} y={3161} s={72} rot={-90}><Sup s={72} after="Be and ">10</Sup><Sup s={72} after="Be">7</Sup></T>
        <T x={223} y={3161} s={72} rot={-90}>(10000*atoms/m<Sup s={72} after=")">3</Sup></T>
        <T x={2864} y={3190} s={72} rot={-90}>O<Sub s={72} after=" (µg/m">3</Sub><Sup s={72} after=")">3</Sup></T>
        <T x={1505} y={3650} s={76}>Date (2024)</T>

        {/* b */}
        <T x={3572} y={536} s={74} rot={-90}>Mass range (µg/m<Sup s={74} after=")">3</Sup></T>
        <rect x={4698} y={203} width={101} height={48} fill="#000" stroke="#444" strokeWidth={3} />
        <line x1={4748} y1={287} x2={4748} y2={334} stroke="#4FE3AA" strokeWidth={5} />
        <line x1={4730} y1={287} x2={4766} y2={287} stroke="#4FE3AA" strokeWidth={5} strokeLinecap="round" />
        <line x1={4730} y1={334} x2={4766} y2={334} stroke="#4FE3AA" strokeWidth={5} strokeLinecap="round" />
        <circle cx={4748} cy={394} r={26} fill="#00FFFF" />
        <T x={4813} y={221} s={65} anchor="start">25%~75%</T>
        <T x={4813} y={303} s={65} anchor="start">min~max</T>
        <T x={4813} y={386} s={65} anchor="start">median</T>

        {/* c */}
        <rect x={3222} y={1909} width={1940} height={65} fill="none" stroke="#000" strokeWidth={2.5} />
        <rect x={3875} y={1312} width={1034} height={382} fill="none" stroke="#000" strokeWidth={5} strokeDasharray="12 16" />
        <Arrow x1={4434} y1={1719} x2={4380} y2={1841} head={75} wid={16} />
        <T x={4233} y={2107} s={72}>FPPs concentration (µg/m<Sup s={72} after=")">3</Sup></T>
        <T x={3050} y={1625} s={72} rot={-90}>Density (%)</T>
        {polymers.map((n, k) => (
          <g key={n}>
            <rect x={4948} y={1313 + k * 64.7} width={92} height={46} fill={denFill[n]} fillOpacity={.5} stroke={denStroke[n]} strokeWidth={3} />
            <T x={5054} y={1336 + k * 64.7} s={52} anchor="start">{n}</T>
          </g>
        ))}

        {/* d */}
        <T x={3042} y={2955} s={84} rot={-90} fill="#333">Proportion of various polymers (%)</T>
        <T x={4170} y={3630} s={84} fill="#333">Date (2024)</T>
        {polymers.map((n, k) => (
          <g key={n}>
            <rect x={4958} y={2306 + k * 64.5} width={113} height={55} fill={colorsD[n]} />
            <T x={n === 'PMMA' ? 5073 : 5086} y={2333 + k * 64.5} s={52} anchor="start">{n}</T>
          </g>
        ))}
      </svg>
    </div>
  );
}
